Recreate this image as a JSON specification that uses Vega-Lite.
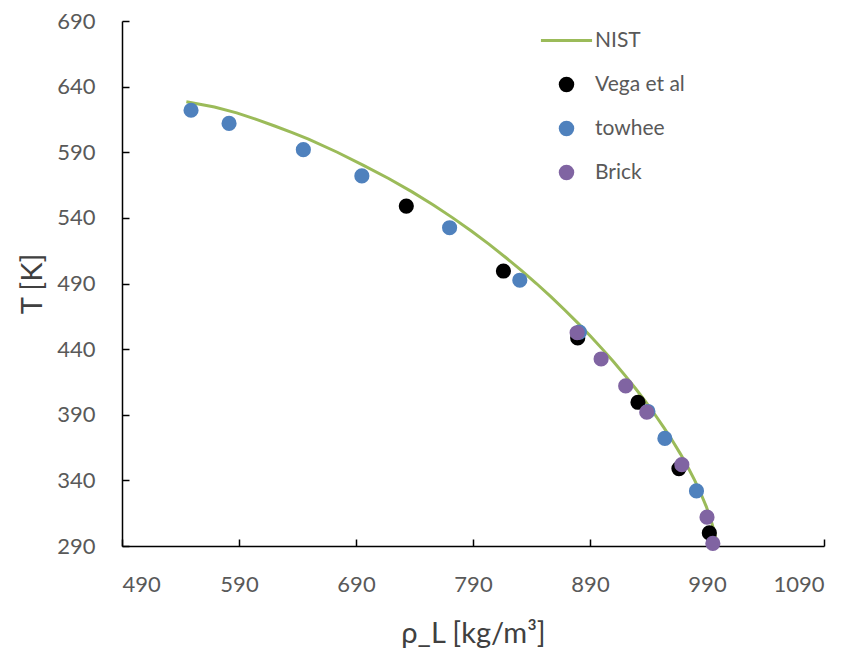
{
  "$schema": "https://vega.github.io/schema/vega-lite/v6.json",
  "autosize": "none",
  "width": 702,
  "height": 525,
  "padding": {"left": 122, "top": 21, "right": 41, "bottom": 109},
  "background": "white",
  "config": {
    "view": {"stroke": null},
    "font": "Lato",
    "axis": {
      "grid": false,
      "domainColor": "#000000",
      "domainWidth": 1.5,
      "tickColor": "#000000",
      "tickWidth": 1.5,
      "tickSize": -7,
      "labelFont": "Lato",
      "labelFontSize": 22,
      "labelColor": "#595959",
      "titleFont": "Lato",
      "titleFontSize": 29,
      "titleFontWeight": "normal",
      "titleColor": "#404040"
    }
  },
  "datasets": {
    "nist": [
      {"rho": 999.0, "T": 290},
      {"rho": 996.5, "T": 300},
      {"rho": 993.3, "T": 310},
      {"rho": 989.4, "T": 320},
      {"rho": 984.7, "T": 330},
      {"rho": 979.5, "T": 340},
      {"rho": 973.7, "T": 350},
      {"rho": 967.4, "T": 360},
      {"rho": 960.6, "T": 370},
      {"rho": 953.3, "T": 380},
      {"rho": 945.6, "T": 390},
      {"rho": 937.5, "T": 400},
      {"rho": 928.9, "T": 410},
      {"rho": 919.9, "T": 420},
      {"rho": 910.5, "T": 430},
      {"rho": 900.6, "T": 440},
      {"rho": 890.3, "T": 450},
      {"rho": 879.5, "T": 460},
      {"rho": 868.2, "T": 470},
      {"rho": 856.5, "T": 480},
      {"rho": 844.2, "T": 490},
      {"rho": 831.3, "T": 500},
      {"rho": 817.7, "T": 510},
      {"rho": 803.6, "T": 520},
      {"rho": 788.6, "T": 530},
      {"rho": 772.7, "T": 540},
      {"rho": 755.8, "T": 550},
      {"rho": 737.6, "T": 560},
      {"rho": 717.9, "T": 570},
      {"rho": 696.4, "T": 580},
      {"rho": 674.0, "T": 590},
      {"rho": 649.4, "T": 600},
      {"rho": 635.5, "T": 605},
      {"rho": 620.5, "T": 610},
      {"rho": 604.8, "T": 615},
      {"rho": 588.0, "T": 620},
      {"rho": 569.0, "T": 624.5},
      {"rho": 545.0, "T": 628.5}
    ],
    "pts": [
      {"series": "Vega et al", "rho": 733, "T": 549},
      {"series": "Vega et al", "rho": 816, "T": 499.5},
      {"series": "Vega et al", "rho": 879.5, "T": 448.5},
      {"series": "Vega et al", "rho": 931, "T": 399.5},
      {"series": "Vega et al", "rho": 966, "T": 349},
      {"series": "Vega et al", "rho": 992, "T": 300},
      {"series": "towhee", "rho": 549, "T": 622},
      {"series": "towhee", "rho": 581.5, "T": 612},
      {"series": "towhee", "rho": 645, "T": 592},
      {"series": "towhee", "rho": 695, "T": 572},
      {"series": "towhee", "rho": 770, "T": 532.5},
      {"series": "towhee", "rho": 830, "T": 492.5},
      {"series": "towhee", "rho": 881, "T": 453},
      {"series": "towhee", "rho": 939.5, "T": 392.5},
      {"series": "towhee", "rho": 954, "T": 372},
      {"series": "towhee", "rho": 981, "T": 332},
      {"series": "Brick", "rho": 879, "T": 452.5},
      {"series": "Brick", "rho": 899.5, "T": 432.5},
      {"series": "Brick", "rho": 920.5, "T": 412},
      {"series": "Brick", "rho": 938.5, "T": 392},
      {"series": "Brick", "rho": 968.5, "T": 352},
      {"series": "Brick", "rho": 990, "T": 312},
      {"series": "Brick", "rho": 995, "T": 292}
    ]
  },
  "layer": [
    {
      "data": {"name": "nist"},
      "mark": {"type": "line", "color": "#9BBB59", "strokeWidth": 3, "clip": true},
      "encoding": {
        "x": {"field": "rho", "type": "quantitative"},
        "y": {"field": "T", "type": "quantitative"},
        "order": {"field": "T", "type": "quantitative"}
      }
    },
    {
      "data": {"name": "pts"},
      "mark": {"type": "point", "filled": true, "opacity": 1, "size": 230},
      "encoding": {
        "x": {
          "field": "rho",
          "type": "quantitative",
          "scale": {"domain": [490, 1090], "nice": false, "zero": false},
          "axis": {
            "title": "ρ_L [kg/m³]",
            "format": "d",
            "values": [490, 590, 690, 790, 890, 990, 1090],
            "labelPadding": 35,
            "titleX": 351,
            "titleY": 87,
            "titleBaseline": "middle"
          }
        },
        "y": {
          "field": "T",
          "type": "quantitative",
          "scale": {"domain": [290, 690], "nice": false, "zero": false},
          "axis": {
            "title": "T [K]",
            "format": "d",
            "values": [290, 340, 390, 440, 490, 540, 590, 640, 690],
            "labelPadding": 34,
            "titleX": -90,
            "titleY": 262.5,
            "titleBaseline": "middle",
            "titleAlign": "center"
          }
        },
        "color": {
          "field": "series",
          "type": "nominal",
          "scale": {
            "domain": ["NIST", "Vega et al", "towhee", "Brick"],
            "range": ["#9BBB59", "#000000", "#4F81BD", "#8064A2"]
          },
          "legend": {
            "title": null,
            "orient": "none",
            "legendX": 434,
            "legendY": 9,
            "labelFont": "Lato",
            "labelFontSize": 21,
            "labelColor": "#595959",
            "symbolSize": 240,
            "labelOffset": 18,
            "rowPadding": 22,
            "symbolStrokeWidth": 0
          }
        },
        "shape": {
          "field": "series",
          "type": "nominal",
          "scale": {
            "domain": ["NIST", "Vega et al", "towhee", "Brick"],
            "range": ["M-3.3,-0.2H3.3V0.2H-3.3Z", "circle", "circle", "circle"]
          },
          "legend": {
            "title": null,
            "orient": "none",
            "legendX": 434,
            "legendY": 9,
            "labelFont": "Lato",
            "labelFontSize": 21,
            "labelColor": "#595959",
            "symbolSize": 240,
            "labelOffset": 18,
            "rowPadding": 22,
            "symbolStrokeWidth": 0
          }
        }
      }
    }
  ]
}
